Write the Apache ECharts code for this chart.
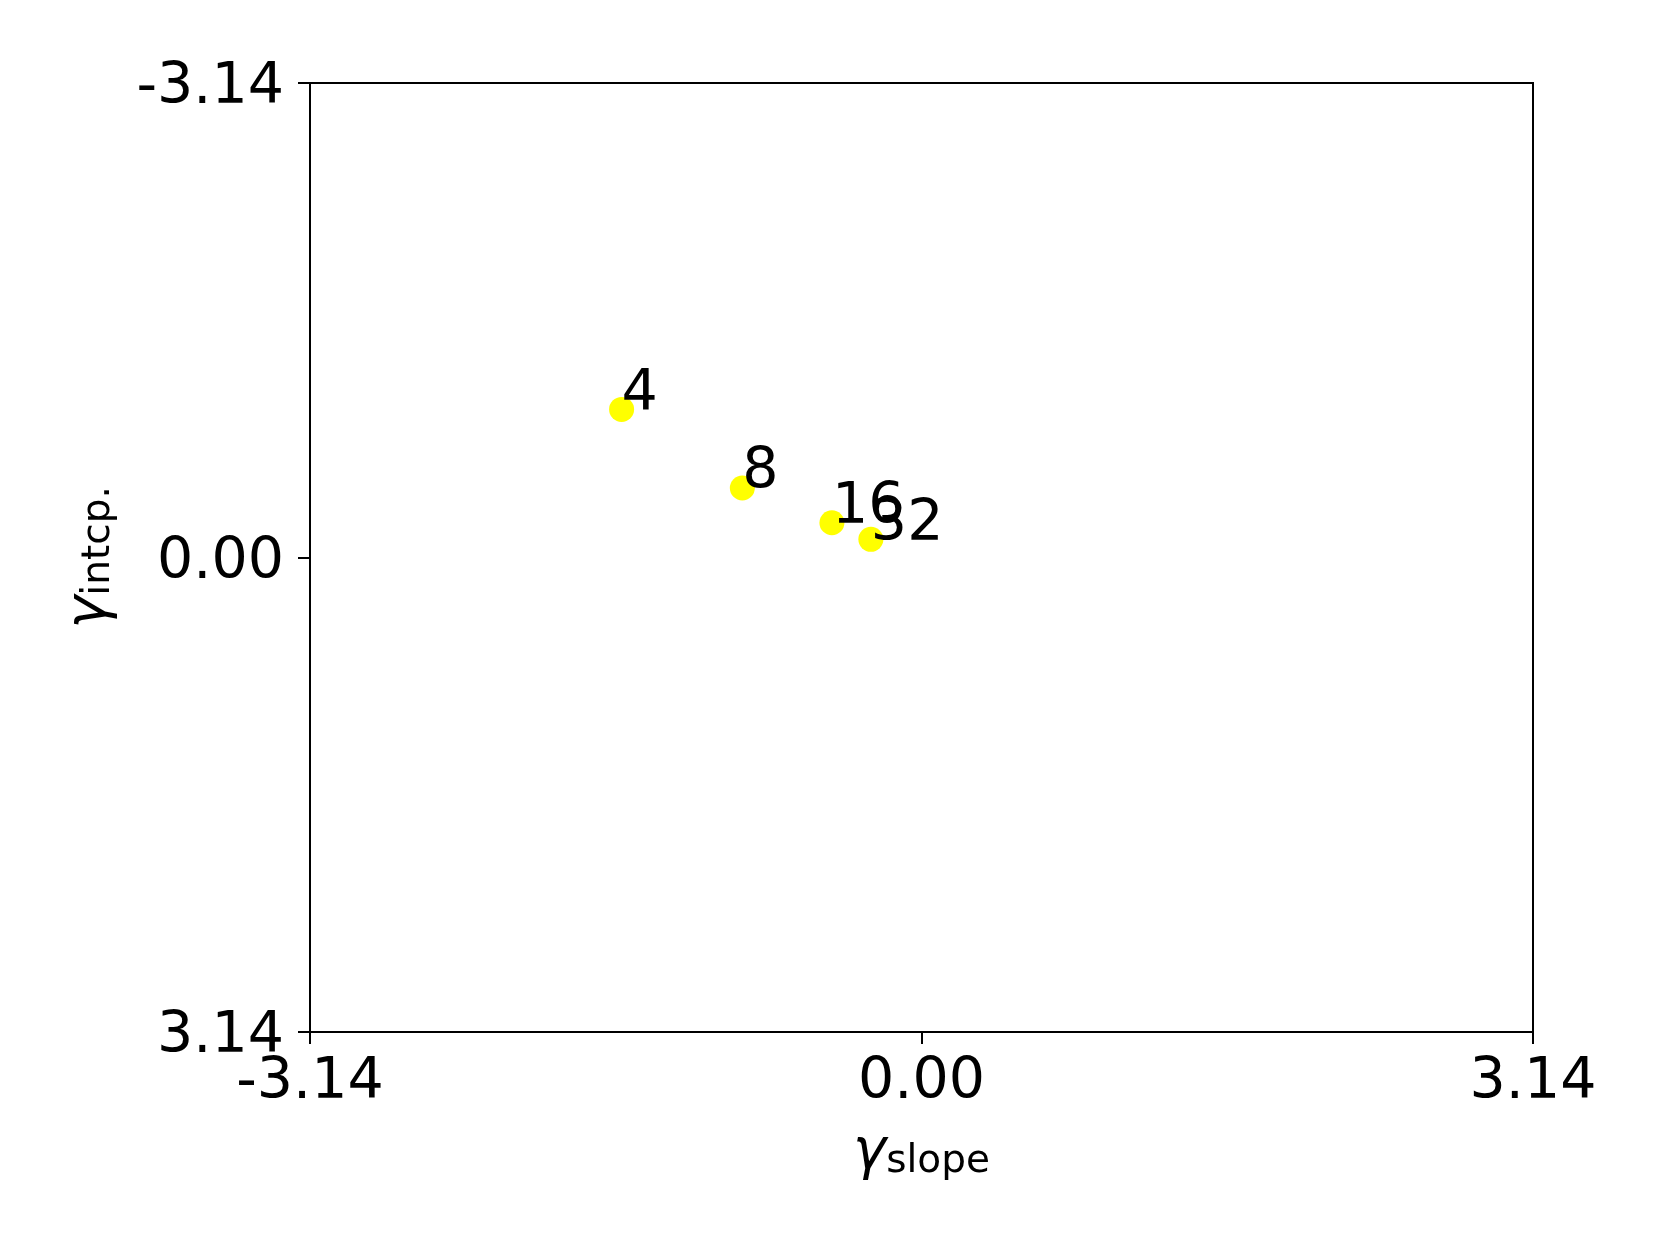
<!DOCTYPE html>
<html>
<head>
<meta charset="utf-8">
<script src="https://cdn.jsdelivr.net/npm/echarts@6/dist/echarts.min.js"></script>
<style>
  html, body { margin: 0; padding: 0; background: #fff; }
  #chart { width: 1660px; height: 1245px; }
</style>
</head>
<body>
<div id="chart"></div>
<script>
// point labels (group size) and read-off coordinates
const pointNames = ['4', '8', '16', '32'];
const slopeValues = [-1.54, -0.92, -0.46, -0.26];
const interceptValues = [-0.98, -0.46, -0.23, -0.12];
// axis range / ticks
const axisMin = -3.14;
const axisMax = 3.14;
const tickStep = 3.14;

const font = 'DejaVu Sans';

const chart = echarts.init(document.getElementById('chart'));

const points = slopeValues.map((x, i) => [x, interceptValues[i], pointNames[i]]);

const nameRich = {
  g: { fontFamily: font, fontStyle: 'italic', fontSize: 56, lineHeight: 56, color: '#000', verticalAlign: 'middle' },
  s: { fontFamily: font, fontSize: 39, lineHeight: 24, color: '#000', verticalAlign: 'bottom' }
};

const option = {
  backgroundColor: '#fff',
  animation: false,
  grid: {
    left: 310,
    right: 127,
    top: 83,
    bottom: 213,
    show: true,
    borderColor: '#000',
    borderWidth: 2,
    backgroundColor: 'transparent'
  },
  xAxis: {
    type: 'value',
    min: axisMin,
    max: axisMax,
    interval: tickStep,
    name: '{g|γ}{s|slope}',
    nameLocation: 'middle',
    nameGap: 93,
    nameTextStyle: { rich: nameRich },
    axisLine: { show: true, onZero: false, lineStyle: { color: '#000', width: 2 } },
    axisTick: { show: true, length: 12, lineStyle: { color: '#000', width: 2 } },
    axisLabel: {
      show: true,
      margin: 23,
      fontFamily: font,
      fontSize: 57,
      color: '#000',
      showMinLabel: true,
      showMaxLabel: true,
      formatter: v => v.toFixed(2)
    },
    splitLine: { show: false }
  },
  yAxis: {
    type: 'value',
    inverse: true,
    min: axisMin,
    max: axisMax,
    interval: tickStep,
    name: '{g|γ}{s|intcp.}',
    nameLocation: 'middle',
    nameRotate: 90,
    nameGap: 192,
    nameTextStyle: { rich: nameRich },
    axisLine: { show: true, onZero: false, lineStyle: { color: '#000', width: 2 } },
    axisTick: { show: true, length: 12, lineStyle: { color: '#000', width: 2 } },
    axisLabel: {
      show: true,
      margin: 26,
      color: '#000',
      showMinLabel: true,
      showMaxLabel: true,
      formatter: v => '{t|' + v.toFixed(2) + '}',
      rich: {
        t: { fontFamily: font, fontSize: 57, lineHeight: 57, color: '#000', padding: [11, 0, 0, 0] }
      }
    },
    splitLine: { show: false }
  },
  series: [
    {
      type: 'scatter',
      data: points,
      symbol: 'circle',
      symbolSize: 25,
      itemStyle: { color: '#ffff00', opacity: 1 },
      label: {
        show: true,
        position: [12.5, 12.5],
        align: 'left',
        verticalAlign: 'bottom',
        offset: [0, 14],
        fontFamily: font,
        fontSize: 57,
        lineHeight: 57,
        color: '#000',
        formatter: p => p.data[2]
      },
      emphasis: { disabled: true }
    }
  ]
};

chart.setOption(option);
</script>
</body>
</html>
